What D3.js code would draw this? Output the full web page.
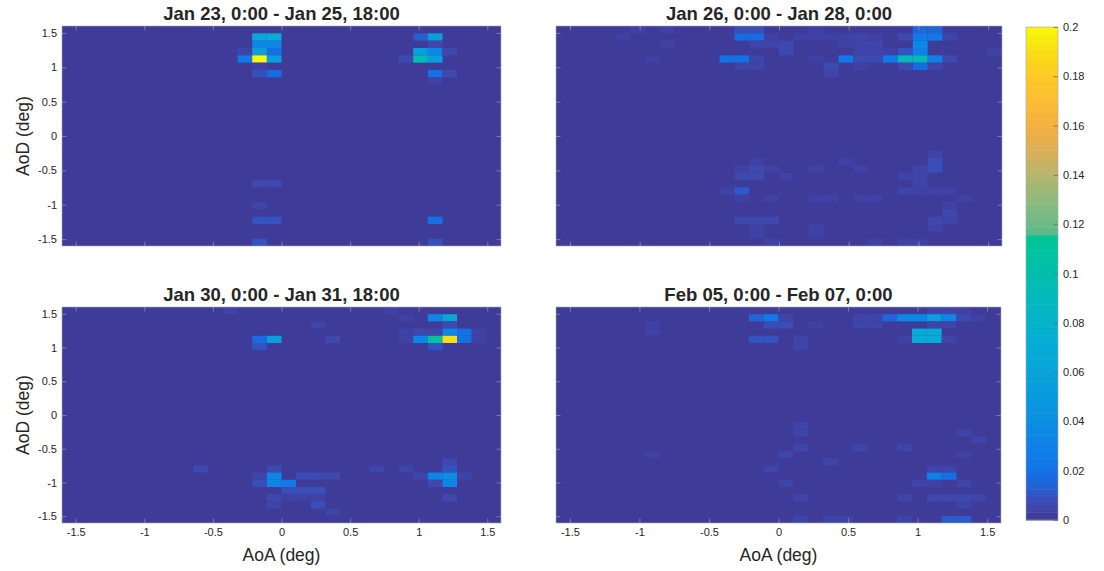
<!DOCTYPE html>
<html lang="en">
<head>
<meta charset="UTF-8">
<script src="https://d3js.org/d3.v7.min.js"></script>
<title>AoA / AoD histograms</title>
<style>
  body { margin: 0; background: #fff; }
  svg text { font-family: "Liberation Sans", Arial, Helvetica, sans-serif; fill: #262626; }
</style>
</head>
<body>
<div id="canvas"></div>
<script>
// ---- data ----
const titles = [
  "Jan 23, 0:00 - Jan 25, 18:00",
  "Jan 26, 0:00 - Jan 28, 0:00",
  "Jan 30, 0:00 - Jan 31, 18:00",
  "Feb 05, 0:00 - Feb 07, 0:00"
];
const angleTicks = [-1.5, -1, -0.5, 0, 0.5, 1, 1.5];
const colorTicks = [0, 0.02, 0.04, 0.06, 0.08, 0.1, 0.12, 0.14, 0.16, 0.18, 0.2];
const nBins = 30;
const angleMax = 1.6;
const colorMax = 0.2;

// cells: [AoA bin, AoD bin (0 = bottom), value]; all other bins are 0
const cellsJan23 = [
  [13,28,.065],[14,28,.07],[13,27,.035],[14,27,.035],
  [12,26,.005],[13,26,.055],[14,26,.02],
  [12,25,.025],[13,25,.2],[14,25,.055],
  [13,24,.004],[13,23,.009],[14,23,.018],
  [24,28,.012],[25,28,.055],[25,27,.006],
  [24,26,.055],[25,26,.035],[26,26,.006],
  [23,25,.007],[24,25,.095],[25,25,.055],
  [25,23,.02],[26,23,.006],[25,22,.004],
  [13,8,.006],[14,8,.006],[13,5,.005],
  [13,3,.01],[14,3,.01],[25,3,.02],
  [13,0,.01],[25,0,.008]
];
const cellsJan26 = [
  [5,29,.004],[7,29,.004],[12,29,.008],[13,29,.008],[17,29,.004],[24,29,.015],[25,29,.015],
  [4,28,.004],[12,28,.018],[13,28,.018],[14,28,.004],[16,28,.004],[17,28,.004],[18,28,.004],
  [19,28,.004],[20,28,.005],[21,28,.004],[23,28,.006],[24,28,.025],[25,28,.025],[26,28,.005],
  [7,27,.004],[13,27,.005],[14,27,.005],[15,27,.006],[19,27,.004],[20,27,.005],[21,27,.005],[24,27,.035],
  [15,26,.006],[20,26,.005],[21,26,.005],[22,26,.004],[23,26,.01],[24,26,.03],[29,26,.004],
  [6,25,.004],[11,25,.02],[12,25,.02],[13,25,.005],[17,25,.004],[19,25,.025],[20,25,.007],
  [21,25,.007],[22,25,.025],[23,25,.09],[24,25,.09],[25,25,.03],[26,25,.006],
  [12,24,.005],[13,24,.005],[18,24,.007],[20,24,.004],[23,24,.006],[24,24,.018],[25,24,.005],
  [18,23,.005],
  [25,12,.005],[13,11,.004],[19,11,.004],[25,11,.008],
  [12,10,.004],[13,10,.006],[14,10,.004],[17,10,.004],[20,10,.004],[24,10,.005],[25,10,.008],
  [12,9,.006],[13,9,.006],[15,9,.004],[23,9,.005],[24,9,.005],
  [24,8,.005],
  [11,7,.004],[12,7,.012],[23,7,.005],[24,7,.004],[25,7,.004],[26,7,.004],
  [12,6,.004],[14,6,.004],[17,6,.004],[18,6,.004],[20,6,.004],[21,6,.004],[27,6,.004],
  [26,5,.004],[26,4,.006],
  [12,3,.006],[13,3,.006],[14,3,.006],[25,3,.006],[26,3,.005],
  [13,2,.004],[17,2,.004],[25,2,.005],
  [13,1,.004],[17,1,.004],
  [14,0,.004],[21,0,.004],[23,0,.004],[24,0,.004]
];
const cellsJan30 = [
  [11,29,.005],[22,29,.004],
  [23,28,.004],[25,28,.035],[26,28,.065],
  [17,27,.005],[26,27,.006],
  [23,26,.004],[24,26,.006],[25,26,.005],[26,26,.035],[27,26,.02],[28,26,.004],
  [13,25,.018],[14,25,.055],[18,25,.006],[23,25,.004],[24,25,.035],[25,25,.11],[26,25,.19],[27,25,.02],[28,25,.004],
  [13,24,.01],[25,24,.01],
  [26,8,.006],
  [9,7,.006],[14,7,.006],[21,7,.005],[23,7,.005],[26,7,.01],
  [13,6,.005],[14,6,.035],[16,6,.007],[17,6,.007],[18,6,.006],[24,6,.005],[25,6,.035],[26,6,.04],[27,6,.005],
  [13,5,.008],[14,5,.035],[15,5,.025],[25,5,.006],[26,5,.035],
  [15,4,.008],[16,4,.008],[17,4,.008],
  [14,3,.006],[15,3,.004],[16,3,.004],[17,3,.004],[26,3,.006],
  [14,2,.005],[17,2,.008],
  [18,1,.005]
];
const cellsFeb05 = [
  [25,29,.005],[26,29,.005],[27,29,.004],
  [13,28,.015],[14,28,.025],[15,28,.005],[20,28,.005],[21,28,.005],[22,28,.015],[23,28,.035],
  [24,28,.035],[25,28,.055],[26,28,.035],[27,28,.006],[28,28,.004],
  [6,27,.004],[14,27,.008],[15,27,.008],[17,27,.004],[20,27,.005],[21,27,.005],[25,27,.005],[26,27,.005],
  [6,26,.004],[24,26,.07],[25,26,.07],
  [13,25,.01],[14,25,.01],[16,25,.005],[23,25,.004],[24,25,.07],[25,25,.07],[26,25,.005],
  [16,24,.005],
  [16,13,.005],[16,12,.005],[27,12,.005],[28,11,.005],
  [16,10,.005],[20,10,.005],[23,10,.005],
  [6,9,.004],[15,9,.005],[27,9,.004],
  [18,8,.005],
  [14,7,.005],[25,7,.005],[26,7,.005],
  [25,6,.03],[26,6,.02],
  [15,5,.005],[24,5,.005],[25,5,.004],[27,5,.005],
  [16,3,.005],[23,3,.005],[25,3,.006],[26,3,.006],[27,3,.006],[28,3,.005],
  [27,2,.005],
  [16,0,.005],[18,0,.005],[19,0,.005],[23,0,.005],[26,0,.012],[27,0,.012]
];
const panelCells = [cellsJan23, cellsJan26, cellsJan30, cellsFeb05];

// colormap (parula-like, with the muted upper part of the original)
const cmapDomain = [0, .003, .006, .01, .014, .018, .022, .03, .04, .055, .07, .085, .1, .115,
                    .1155, .13, .14, .15, .16, .17, .18, .19, .2];
const cmapRange = ["#3e3c98","#3f3f9f","#3f48ad","#3353c0","#2462d4","#166ce0","#1076e8","#0f80e8",
                   "#0b8ee2","#08a0dc","#06acd6","#04b6c4","#02bead","#00c596",
                   "#5ab98c","#8fbb7d","#b5b570","#dcb05a","#f4b13f","#fbbd33","#fdca25","#f9dd15","#f8f80c"];
const color = d3.scaleLinear().domain(cmapDomain).range(cmapRange).clamp(true);

// ---- layout ----
const W = 1104, H = 571;
const boxes = [
  {x0: 62, x1: 501, y0: 26, y1: 246},
  {x0: 556, x1: 1002, y0: 26, y1: 246},
  {x0: 62, x1: 501, y0: 307, y1: 523},
  {x0: 556, x1: 1001, y0: 307, y1: 523}
];
const cbar = {x0: 1026, x1: 1058, y0: 27, y1: 520};

const svg = d3.select("#canvas").append("svg").attr("width", W).attr("height", H);
const edges = d3.range(nBins + 1).map(k => -angleMax + k * 2 * angleMax / nBins);

boxes.forEach((b, i) => {
  const xs = d3.scaleLinear().domain([-angleMax, angleMax]).range([b.x0, b.x1]);
  const ys = d3.scaleLinear().domain([-angleMax, angleMax]).range([b.y1, b.y0]);
  const g = svg.append("g");

  g.append("rect").attr("x", b.x0).attr("y", b.y0)
    .attr("width", b.x1 - b.x0).attr("height", b.y1 - b.y0)
    .attr("fill", color(0));

  g.selectAll("rect.cell").data(panelCells[i]).enter().append("rect")
    .attr("class", "cell")
    .attr("x", d => xs(edges[d[0]]))
    .attr("y", d => ys(edges[d[1] + 1]))
    .attr("width", d => xs(edges[d[0] + 1]) - xs(edges[d[0]]))
    .attr("height", d => ys(edges[d[1]]) - ys(edges[d[1] + 1]))
    .attr("fill", d => color(d[2]));

  const left = i % 2 == 0, bottom = i >= 2;
  const ax = [
    [d3.axisLeft(ys), b.x0, 0, left],
    [d3.axisRight(ys), b.x1, 0, false],
    [d3.axisBottom(xs), 0, b.y1, bottom],
    [d3.axisTop(xs), 0, b.y0, false]
  ];
  ax.forEach(([axis, tx, ty, labels]) => {
    axis.tickValues(angleTicks).tickSize(-4.5).tickPadding(labels ? 5 : 0)
      .tickFormat(labels ? (d => String(d)) : "");
    const a = g.append("g").attr("transform", `translate(${tx},${ty})`).call(axis);
    a.select(".domain").remove();
    a.selectAll("line").attr("stroke", "#8a8aa8").attr("stroke-width", 0.8);
    a.selectAll("text").attr("font-size", 11).attr("fill", "#262626");
  });

  g.append("rect").attr("x", b.x0).attr("y", b.y0)
    .attr("width", b.x1 - b.x0).attr("height", b.y1 - b.y0)
    .attr("fill", "none").attr("stroke", "#a8a8a8").attr("stroke-width", 0.6);

  g.append("text").attr("x", (b.x0 + b.x1) / 2).attr("y", b.y0 - 6)
    .attr("text-anchor", "middle").attr("font-size", 18.5).attr("font-weight", "bold")
    .text(titles[i]);

  if (left) {
    g.append("text")
      .attr("transform", `translate(29,${(b.y0 + b.y1) / 2}) rotate(-90)`)
      .attr("text-anchor", "middle").attr("font-size", 17.5)
      .text("AoD (deg)");
  }
  if (bottom) {
    g.append("text").attr("x", (b.x0 + b.x1) / 2).attr("y", 561)
      .attr("text-anchor", "middle").attr("font-size", 17.5)
      .text("AoA (deg)");
  }
});

// ---- colorbar ----
const cs = d3.scaleLinear().domain([0, colorMax]).range([cbar.y1, cbar.y0]);
const nSteps = 64;
const steps = d3.range(nSteps).map(k => k * colorMax / nSteps);
svg.append("g").selectAll("rect").data(steps).enter().append("rect")
  .attr("x", cbar.x0).attr("width", cbar.x1 - cbar.x0)
  .attr("y", d => cs(d + colorMax / nSteps))
  .attr("height", d => cs(d) - cs(d + colorMax / nSteps) + 0.5)
  .attr("fill", d => color(d + colorMax / nSteps / 2));
svg.append("rect").attr("x", cbar.x0).attr("y", cbar.y0)
  .attr("width", cbar.x1 - cbar.x0).attr("height", cbar.y1 - cbar.y0)
  .attr("fill", "none").attr("stroke", "#a8a8a8").attr("stroke-width", 0.6);

const cax = d3.axisRight(cs).tickValues(colorTicks).tickSize(-4.5).tickPadding(5)
  .tickFormat(d => String(+d.toFixed(2)));
const cg = svg.append("g").attr("transform", `translate(${cbar.x1},0)`).call(cax);
cg.select(".domain").remove();
cg.selectAll("line").attr("stroke", "#6b6b6b").attr("stroke-width", 0.8);
cg.selectAll("text").attr("font-size", 11).attr("fill", "#262626");
</script>
</body>
</html>
